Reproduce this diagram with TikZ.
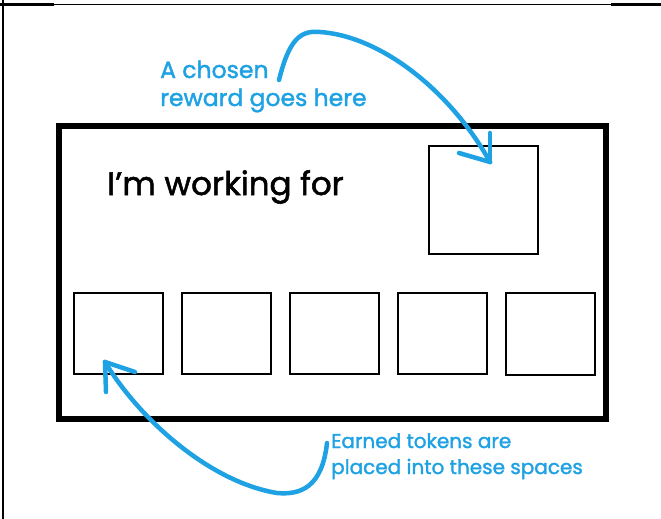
\documentclass[tikz,border=0pt]{standalone}
\usepackage{fontspec}
\setmainfont{Poppins}[UprightFeatures={FakeBold=1.6}]
\usepackage{xcolor}
\definecolor{inkblue}{RGB}{30,162,228}
\tikzset{
  frameline/.style={draw=black, line width=2pt},
  bigcard/.style={draw=black, line width=6pt},
  slotbox/.style={draw=black, line width=2pt},
  inkarrow/.style={draw=inkblue, line width=4.5pt, line cap=round, line join=round},
  bluelabel/.style={text=inkblue, anchor=base west, inner sep=0pt, font=\fontsize{23.5}{28}\selectfont, align=left},
}
\begin{document}
\begin{tikzpicture}[x=1pt, y=-1pt]
\useasboundingbox (0,0) rectangle (661,519);
\fill[white] (0,0) rectangle (661,519);
% outer frame fragments
\draw[frameline] (2.5,0) -- (2.5,519);
\draw[black, line width=3pt] (0,4.5) -- (54,4.5);
\draw[black, line width=1.5pt] (54,4.5) -- (611,4.5);
\draw[black, line width=3pt] (611,4.5) -- (661,4.5);
% card
\draw[bigcard] (59,126) rectangle (606,419);
\node[anchor=base west, inner sep=0pt, font=\fontsize{32.5}{40}\selectfont] (title) at (107,195) {I’m working for};
% reward box
\draw[slotbox] (429,146) rectangle (538,254);
\coordinate (rewardtip) at (490,162);
% token slots
\draw[slotbox] (74,293) rectangle (163,374);
\draw[slotbox] (182,293) rectangle (271,374);
\draw[slotbox] (290,293) rectangle (379,374);
\draw[slotbox] (398,293) rectangle (487,374);
\draw[slotbox] (506,293) rectangle (595,375);
\coordinate (tokentip) at (105,362);
% labels
\node[bluelabel] (lab1) at (160,106) {A chosen\\reward goes here};
\node[bluelabel, font=\fontsize{20}{26}\selectfont] (lab2) at (331,474) {Earned tokens are\\placed into these spaces};
\coordinate (start1) at (279,80);
\coordinate (start2) at (327,443);
% arrows
\draw[inkarrow] (start1) .. controls (289,40) and (300,30) .. (320,32)
  .. controls (380,36) and (450,90) .. (rewardtip);
\draw[inkarrow] (rewardtip) -- ++(0,-29);
\draw[inkarrow] (rewardtip) -- ++(-31,-9);
\draw[inkarrow] (start2) .. controls (322,488) and (300,495) .. (277,493)
  .. controls (210,482) and (140,420) .. (tokentip);
\draw[inkarrow] (tokentip) -- ++(30,10);
\draw[inkarrow] (tokentip) -- ++(1,30);
\end{tikzpicture}
\end{document}
